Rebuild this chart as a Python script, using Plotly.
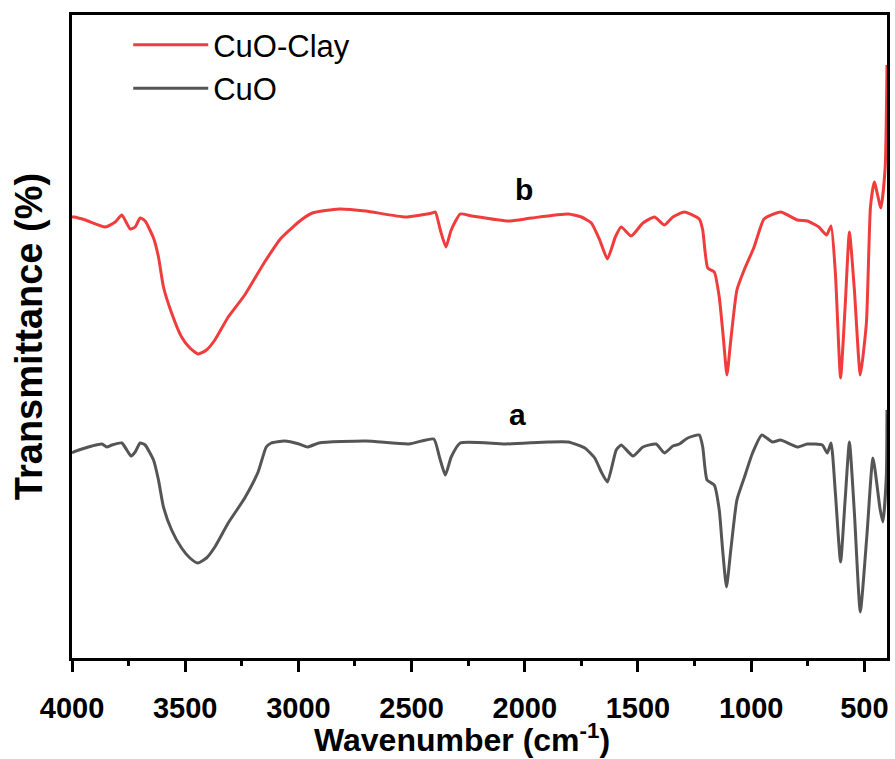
import plotly.graph_objects as go

# FTIR spectra: wavenumber (cm-1) and transmittance (offset, arbitrary units)
wn_clay = [4000, 3991, 3941, 3853, 3809, 3780, 3743, 3721, 3699, 3677,
           3640, 3618, 3596, 3560, 3516, 3479, 3442, 3406, 3369, 3310,
           3237, 3149, 3076, 2988, 2938, 2820, 2703, 2527, 2410, 2395,
           2373, 2348, 2325, 2285, 2234, 2072, 1970, 1808, 1750, 1706,
           1669, 1635, 1600, 1574, 1530, 1478, 1427, 1383, 1346, 1295,
           1229, 1214, 1192, 1163, 1141, 1122, 1107, 1090, 1063, 1031,
           987, 943, 870, 796, 752, 701, 667, 647, 628, 605,
           585, 566, 544, 518, 491, 473, 456, 427, 408, 400]
t_clay = [48.3, 48.3, 48.0, 47.3, 47.8, 48.5, 47.1, 47.3, 48.2, 47.9,
          46.2, 44.3, 41.3, 38.7, 36.3, 35.2, 34.6, 35.0, 36.0, 38.3,
          40.5, 43.8, 46.2, 48.0, 48.7, 49.1, 48.9, 48.3, 48.7, 48.8,
          47.0, 45.3, 47.0, 48.6, 48.4, 47.9, 48.2, 48.6, 48.3, 47.7,
          46.0, 44.1, 46.3, 47.3, 46.4, 47.7, 48.3, 47.5, 48.3, 48.8,
          48.1, 47.0, 43.2, 42.8, 40.3, 36.0, 32.5, 36.0, 41.0, 43.0,
          45.3, 48.1, 48.8, 48.0, 47.9, 47.3, 46.5, 47.4, 42.7, 32.2,
          39.3, 46.8, 41.0, 32.5, 37.7, 49.3, 51.8, 49.2, 53.3, 63.5]

wn_cuo = [4000, 3993, 3956, 3912, 3868, 3846, 3824, 3780, 3758, 3739,
          3721, 3699, 3677, 3640, 3618, 3596, 3560, 3516, 3479, 3445,
          3406, 3369, 3310, 3237, 3178, 3142, 3120, 3061, 2997, 2960,
          2909, 2703, 2512, 2402, 2377, 2351, 2325, 2285, 2087, 1896,
          1808, 1735, 1691, 1662, 1635, 1596, 1574, 1522, 1478, 1420,
          1383, 1346, 1317, 1280, 1229, 1214, 1195, 1163, 1141, 1126,
          1109, 1090, 1063, 1031, 994, 953, 906, 870, 796, 752,
          686, 664, 647, 628, 605, 585, 566, 544, 518, 488,
          462, 430, 418, 403, 400]
t_cuo = [24.7, 24.8, 25.1, 25.4, 25.6, 25.3, 25.5, 25.7, 25.0, 24.4,
         24.8, 25.7, 25.5, 24.0, 22.0, 19.3, 17.0, 15.2, 14.2, 13.7,
         14.2, 15.3, 17.7, 20.2, 22.8, 25.3, 25.7, 25.9, 25.6, 25.3,
         25.7, 25.9, 25.6, 26.1, 24.3, 22.5, 24.3, 25.7, 25.6, 25.8,
         25.8, 25.2, 24.2, 22.8, 21.8, 25.0, 25.5, 24.4, 25.3, 25.6,
         24.7, 25.4, 25.6, 26.2, 26.5, 25.3, 22.0, 21.5, 19.0, 15.0,
         11.3, 15.0, 20.0, 22.2, 24.7, 26.5, 25.8, 26.0, 25.3, 25.6,
         25.5, 24.7, 25.7, 20.7, 13.8, 20.0, 25.8, 18.7, 8.8, 16.7,
         24.2, 19.0, 17.8, 22.3, 29.0]

series_names = ["CuO-Clay", "CuO"]
curve_labels = ["b", "a"]
x_ticks = [4000, 3500, 3000, 2500, 2000, 1500, 1000, 500]

FONT = "Liberation Sans, Arial, sans-serif"
RED = "#f03c3c"
GRAY = "#555555"

fig = go.Figure()
fig.add_trace(go.Scatter(x=wn_clay, y=t_clay, mode="lines", name=series_names[0],
                         line=dict(color=RED, width=3, shape="spline", smoothing=0.5)))
fig.add_trace(go.Scatter(x=wn_cuo, y=t_cuo, mode="lines", name=series_names[1],
                         line=dict(color=GRAY, width=3, shape="spline", smoothing=0.5)))

# curve labels placed above each spectrum
fig.add_annotation(x=2005, y=51.1, text=curve_labels[0], showarrow=False,
                   font=dict(family=FONT, size=30, color="black", weight="bold"))
fig.add_annotation(x=2030, y=28.6, text=curve_labels[1], showarrow=False,
                   font=dict(family=FONT, size=30, color="black", weight="bold"))

# x-axis title, centred slightly left of the plot centre
fig.add_annotation(xref="paper", yref="paper", x=0.478, y=-0.09,
                   xanchor="center", yanchor="top", showarrow=False,
                   text="Wavenumber (cm<sup>-1</sup>)",
                   font=dict(family=FONT, size=32, color="black", weight="bold"))

fig.update_layout(
    width=895, height=759,
    margin=dict(l=72, r=5, t=15, b=101),
    paper_bgcolor="white", plot_bgcolor="white",
    showlegend=True,
    legend=dict(x=0.069, y=0.995, xanchor="left", yanchor="top",
                bgcolor="rgba(0,0,0,0)", borderwidth=0, itemwidth=75,
                font=dict(family=FONT, size=31, color="black"),
                tracegroupgap=0),
    xaxis=dict(
        range=[4000, 400], autorange=False,
        tickvals=x_ticks, ticktext=[str(v) for v in x_ticks],
        ticks="outside", ticklen=11, tickwidth=2.5, tickcolor="black",
        ticklabelstandoff=11,
        minor=dict(dtick=250, tick0=0, ticks="outside", ticklen=5,
                   tickwidth=2.5, tickcolor="black"),
        showline=True, linewidth=3, linecolor="black", mirror=True,
        showgrid=False, zeroline=False,
        tickfont=dict(family=FONT, size=29, color="black", weight="bold"),
    ),
    yaxis=dict(
        range=[4.2, 68.5], autorange=False,
        showticklabels=False, ticks="",
        showline=True, linewidth=3, linecolor="black", mirror=True,
        showgrid=False, zeroline=False,
        title=dict(text="Transmittance (%)", standoff=15,
                   font=dict(family=FONT, size=38, color="black", weight="bold")),
    ),
)

fig.write_html("out.html")
